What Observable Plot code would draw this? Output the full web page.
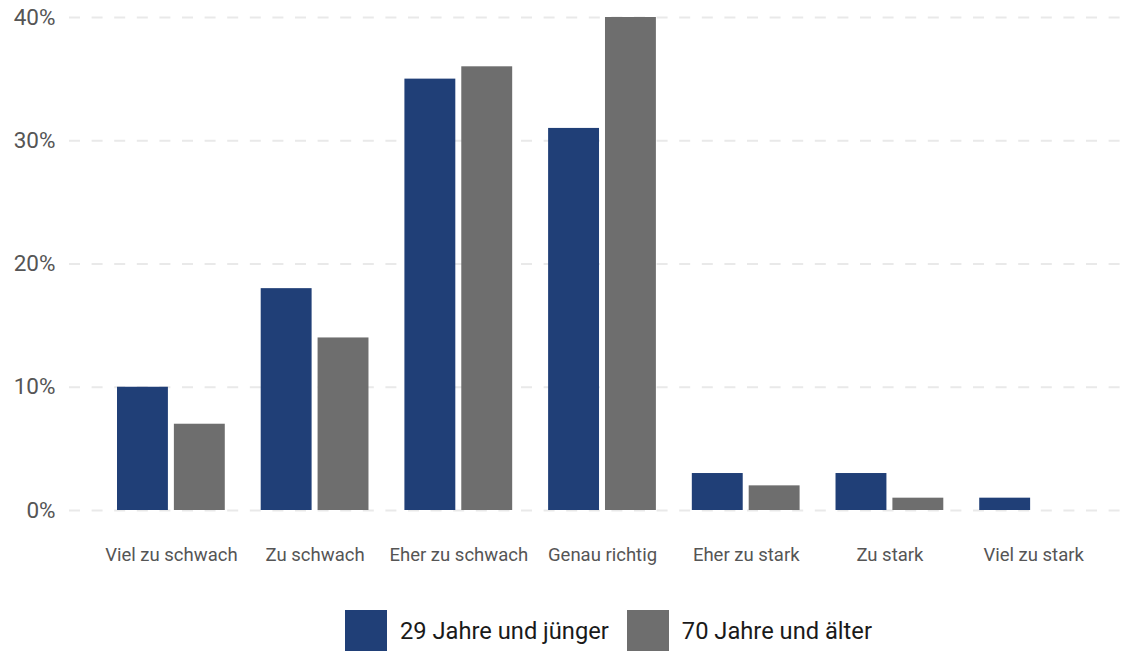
<!DOCTYPE html>
<html>
<head>
<meta charset="utf-8">
<script src="https://cdn.jsdelivr.net/npm/d3@7"></script>
<script src="https://cdn.jsdelivr.net/npm/@observablehq/plot@0.6"></script>
<style>
  html, body { margin: 0; padding: 0; background: #fff; }
  body { font-family: Roboto, "Noto Sans", sans-serif; width: 1125px; height: 652px; overflow: hidden; position: relative; }
  #legend { position: absolute; left: 345px; top: 610px; display: flex; align-items: center; font-size: 23.7px; color: #1a1a1a; }
  .sw { width: 42px; height: 41px; display: inline-block; }
  .lab { margin-left: 13px; margin-right: 18px; }
</style>
</head>
<body>
<div id="chart"></div>
<div id="legend"></div>
<script>
const categories = ["Viel zu schwach", "Zu schwach", "Eher zu schwach", "Genau richtig", "Eher zu stark", "Zu stark", "Viel zu stark"];
const seriesNames = ["29 Jahre und jünger", "70 Jahre und älter"];
const seriesColors = ["#203f77", "#6e6e6e"];
const young = [10, 18, 35, 31, 3, 3, 1];
const old = [7, 14, 36, 40, 2, 1, 0];
const yTicks = [0, 10, 20, 30, 40];

const table = categories.map((c, i) => ({cat: c, young: young[i], old: old[i]}));

const bw = 107.75;
const half = bw / 2 + 3;

const chart = Plot.plot({
  width: 1125,
  height: 600,
  marginTop: 17,
  marginBottom: 90,
  marginLeft: 69,
  marginRight: 0,
  style: {fontFamily: "Roboto, sans-serif", background: "#fff"},
  x: {domain: categories, range: [117, 1087], paddingInner: 0.25, paddingOuter: 0, round: false, label: null},
  y: {domain: [0, 40], label: null},
  marks: [
    Plot.gridY(yTicks, {stroke: "#e9e9e9", strokeOpacity: 1, strokeWidth: 2, strokeDasharray: "11,11.6"}),
    Plot.barY(table, {x: "cat", y: "young", fill: seriesColors[0], insetRight: half}),
    Plot.barY(table, {x: "cat", y: "old", fill: seriesColors[1], insetLeft: half}),
    Plot.axisY(yTicks, {tickSize: 0, tickPadding: 14, fontSize: 22.5, fill: "#555", tickFormat: d => d + "%", label: null}),
    Plot.axisX({tickSize: 0, tickPadding: 37, fontSize: 18.5, fill: "#555", label: null})
  ]
});
document.getElementById("chart").appendChild(chart);

const legend = document.getElementById("legend");
seriesNames.forEach((n, i) => {
  const s = document.createElement("span");
  s.className = "sw";
  s.style.background = seriesColors[i];
  const t = document.createElement("span");
  t.className = "lab";
  t.textContent = n;
  legend.appendChild(s);
  legend.appendChild(t);
});
</script>
</body>
</html>
